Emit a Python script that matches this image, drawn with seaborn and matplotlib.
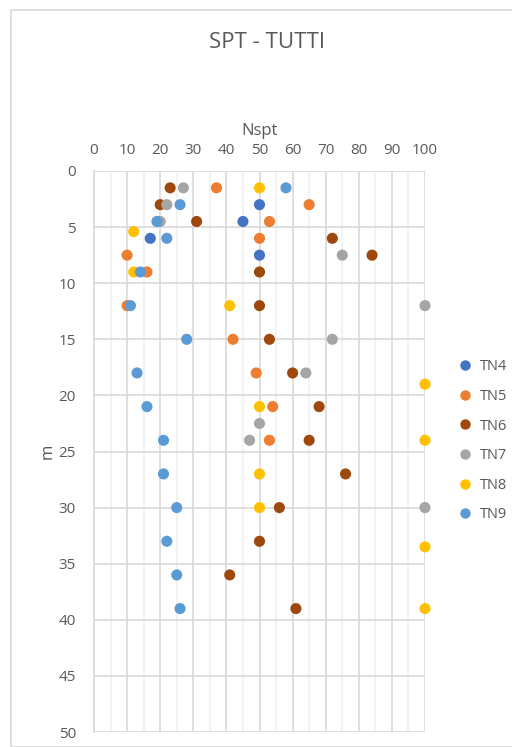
import matplotlib
matplotlib.use("Agg")
import matplotlib.pyplot as plt
import seaborn as sns
import pandas as pd
from matplotlib.patches import Rectangle
from matplotlib.ticker import MultipleLocator

# Nspt values and depths (m) for each borehole
tn4_n = [50, 45, 17, 50]
tn4_z = [3, 4.5, 6, 7.5]
tn5_n = [37, 65, 53, 50, 10, 16, 10, 42, 49, 54, 53]
tn5_z = [1.5, 3, 4.5, 6, 7.5, 9, 12, 15, 18, 21, 24]
tn6_n = [23, 20, 31, 72, 84, 50, 50, 53, 60, 68, 65, 76, 56, 50, 41, 61]
tn6_z = [1.5, 3, 4.5, 6, 7.5, 9, 12, 15, 18, 21, 24, 27, 30, 33, 36, 39]
tn7_n = [27, 22, 20, 75, 100, 72, 64, 50, 47, 100]
tn7_z = [1.5, 3, 4.5, 7.5, 12, 15, 18, 22.5, 24, 30]
tn8_n = [50, 12, 12, 41, 100, 50, 100, 50, 50, 100, 100]
tn8_z = [1.5, 5.4, 9, 12, 19, 21, 24, 27, 30, 33.5, 39]
tn9_n = [58, 26, 19, 22, 14, 11, 28, 13, 16, 21, 21, 25, 22, 25, 26]
tn9_z = [1.5, 3, 4.5, 6, 9, 12, 15, 18, 21, 24, 27, 30, 33, 36, 39]

series = ["TN4", "TN5", "TN6", "TN7", "TN8", "TN9"]
colors = ["#4472C4", "#ED7D31", "#9E480E", "#A5A5A5", "#FFC000", "#5B9BD5"]

frames = []
for name, n, z in zip(series,
                      [tn4_n, tn5_n, tn6_n, tn7_n, tn8_n, tn9_n],
                      [tn4_z, tn5_z, tn6_z, tn7_z, tn8_z, tn9_z]):
    frames.append(pd.DataFrame({"Nspt": n, "m": z, "serie": name}))
df = pd.concat(frames, ignore_index=True)

sns.set_style("white")
plt.rcParams["font.family"] = ["Open Sans", "DejaVu Sans"]

txt = "#595959"
fig = plt.figure(figsize=(5.12, 7.47), dpi=100)
fig.patches.append(Rectangle((11 / 512, 0.0), 1.2, 1 - 10 / 747,
                             transform=fig.transFigure, fill=False,
                             edgecolor="#D9D9D9", linewidth=1.2))
ax = fig.add_axes([94 / 512, 1 - 732 / 747, 331 / 512, 561 / 747])

sns.scatterplot(data=df, x="Nspt", y="m", hue="serie", hue_order=series,
                palette=colors, s=64, edgecolor="none", ax=ax, zorder=3,
                clip_on=False)

ax.set_xlim(0, 100)
ax.set_ylim(50, 0)
ax.xaxis.tick_top()
ax.xaxis.set_label_position("top")
ax.xaxis.set_major_locator(MultipleLocator(10))
ax.xaxis.set_minor_locator(MultipleLocator(5))
ax.yaxis.set_major_locator(MultipleLocator(5))
ax.grid(which="major", color="#D9D9D9", linewidth=1.2)
ax.grid(which="minor", axis="x", color="#F0F0F0", linewidth=1.2)
ax.set_axisbelow(True)
for side in ["top", "right", "bottom"]:
    ax.spines[side].set_visible(False)
ax.spines["left"].set_color("#D9D9D9")
ax.spines["left"].set_linewidth(1.2)
ax.tick_params(which="both", length=0, labelsize=11, labelcolor=txt)
ax.tick_params(axis="x", pad=9)
ax.tick_params(axis="y", pad=13)

ax.set_xlabel("Nspt", fontsize=12, color=txt, labelpad=6)
ax.set_ylabel("m", fontsize=12, color=txt, labelpad=2)

fig.text(267 / 512, 1 - 42 / 747, "SPT - TUTTI", ha="center", va="center",
         fontsize=16, color=txt)

leg = ax.legend(loc="center left", bbox_to_anchor=(1.06, 0.519), frameon=False,
                fontsize=10.5, labelcolor=txt, handletextpad=0.0,
                labelspacing=1.0, borderaxespad=0)
for h in leg.legend_handles:
    h.set_markersize(7.5)

fig.savefig("out.png", dpi=100)
